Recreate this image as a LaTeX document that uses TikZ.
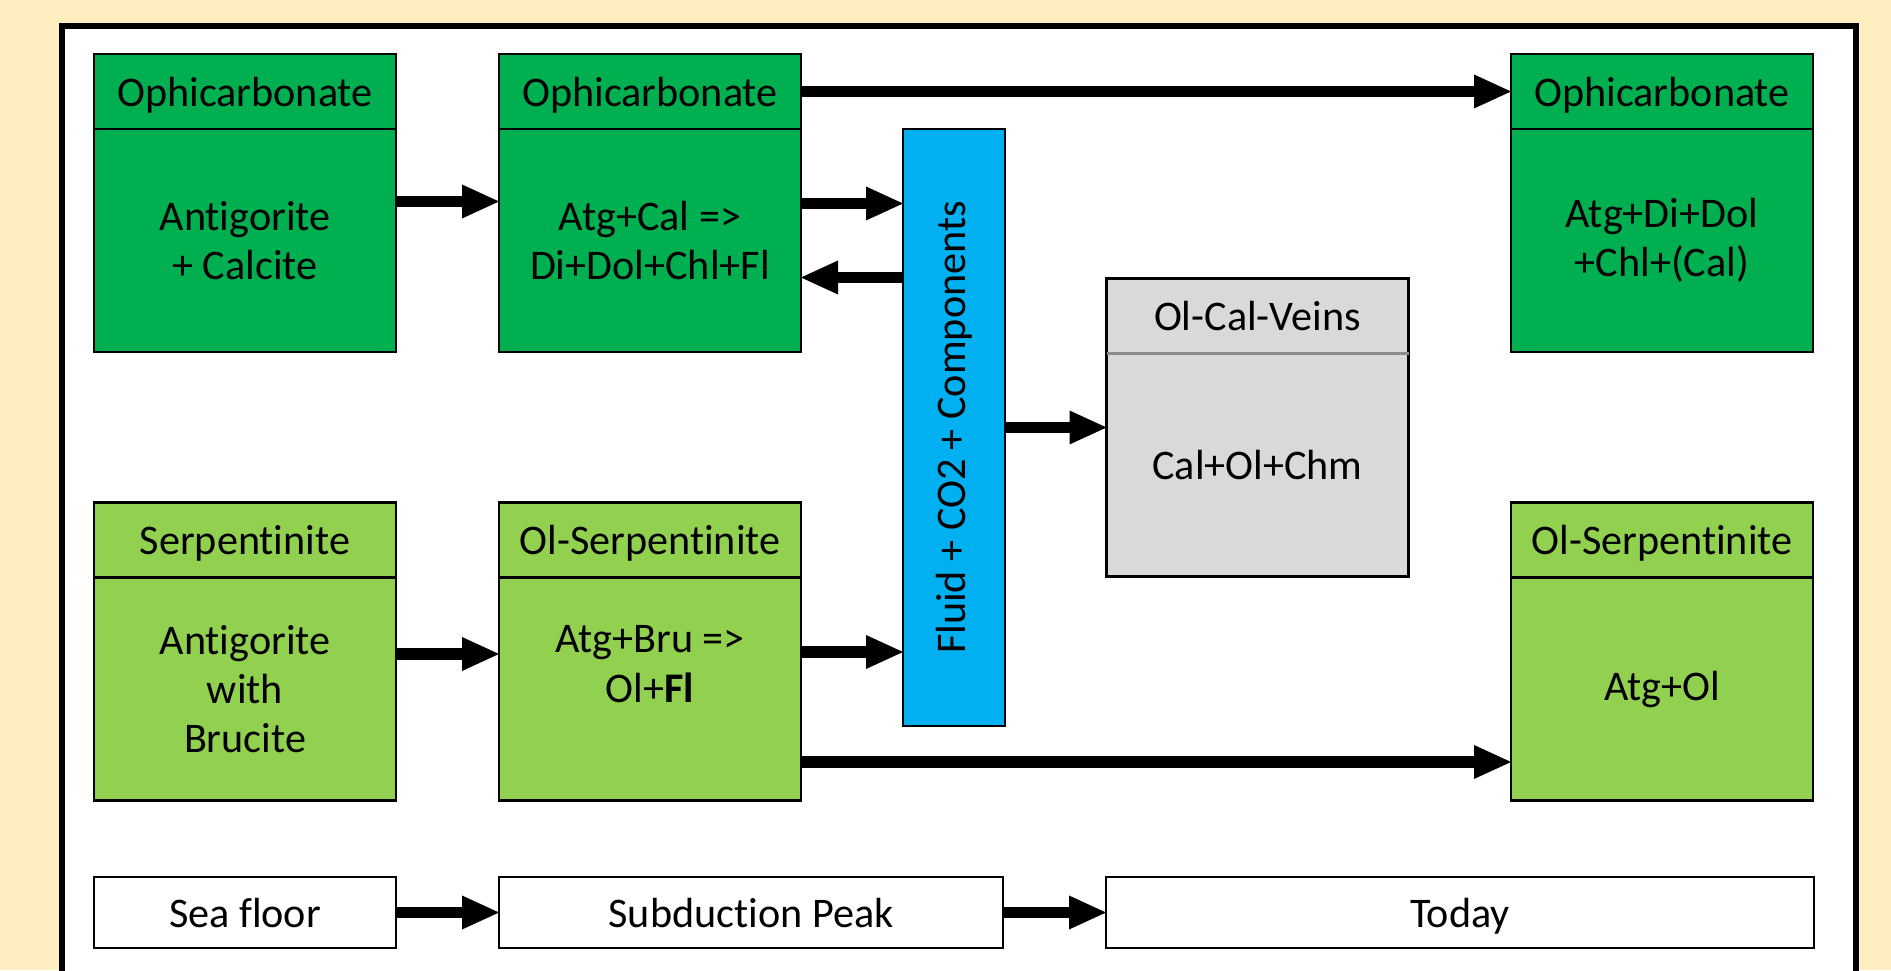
\documentclass[tikz,border=0pt]{standalone}
\usepackage{fontspec}
\setmainfont{Carlito}[Ligatures=NoCommon]
\definecolor{ophigreen}{HTML}{00B050}
\definecolor{serpgreen}{HTML}{92D050}
\definecolor{fluidblue}{HTML}{00B0F0}
\definecolor{veingray}{HTML}{D9D9D9}
\definecolor{papercream}{HTML}{FFEFC0}
\usetikzlibrary{arrows.meta,positioning}

\begin{document}
\begin{tikzpicture}[font=\fontsize{12}{14}\selectfont]
        \tikzset{
            rockbox/.style={
                draw=black,
                line width=0.8pt,
                minimum width=3.02cm,
                inner sep=0pt,
                outer sep=0pt,
                align=center
            },
            rockhead/.style={
                rockbox,
                minimum height=0.75cm,
                text depth=0pt
            },
            rockbody/.style={
                rockbox,
                minimum height=2.23cm
            },
            ophirock/.style={fill=ophigreen},
            serprock/.style={fill=serpgreen},
            veinrock/.style={fill=veingray},
            timebox/.style={
                rockhead,
                fill=white,
                minimum height=0.71cm
            },
            flowarrow/.style={
                -{Triangle[length=3.7mm,width=3.4mm,line width=0pt]},
                draw=black,
                line width=3.4pt
            }
        }

        % page and frame
        \useasboundingbox (0,0) rectangle (18.91,9.70);
        \fill[papercream] (0,0) rectangle (18.91,9.70);
        \begin{scope}
            \clip (0,0) rectangle (18.91,9.70);
            \draw[line width=1.7pt, fill=white] (0.62,-0.5) rectangle (18.56,9.44);
        \end{scope}

        % ophicarbonate row
        \node[rockhead, ophirock] (seaoh) at (2.45,8.785) {Ophicarbonate};
        \node[rockbody, ophirock, below=0pt of seaoh] (seaob)
            {Antigorite\\+ Calcite};
        \node[rockhead, ophirock] (peakoh) at (6.50,8.785) {Ophicarbonate};
        \node[rockbody, ophirock, below=0pt of peakoh] (peakob)
            {Atg+Cal =>\\Di+Dol+Chl+Fl};
        \node[rockhead, ophirock] (todayoh) at (16.62,8.785) {Ophicarbonate};
        \node[rockbody, ophirock, below=0pt of todayoh] (todayob)
            {Atg+Di+Dol\\+Chl+(Cal)};

        % serpentinite row
        \node[rockhead, serprock] (seash) at (2.45,4.30) {Serpentinite};
        \node[rockbody, serprock, below=0pt of seash] (seasb)
            {Antigorite\\with\\Brucite};
        \node[rockhead, serprock] (peaksh) at (6.50,4.30) {Ol-Serpentinite};
        \node[rockbody, serprock, below=0pt of peaksh] (peaksb)
            {Atg+Bru =>\\Ol+\textbf{Fl}\\[-4pt]\strut};
        \node[rockhead, serprock] (todaysh) at (16.62,4.30) {Ol-Serpentinite};
        \node[rockbody, serprock, below=0pt of todaysh] (todaysb) {Atg+Ol};

        % fluid and veins
        \node[rockbox, fill=fluidblue, minimum width=1.02cm,
            minimum height=5.97cm] (fluid) at (9.54,5.425)
            {\rotatebox{90}{Fluid + CO2 + Components}};
        \node[rockhead, veinrock] (veinh) at (12.575,6.54) {Ol-Cal-Veins};
        \node[rockbody, veinrock, below=0pt of veinh] (veinb) {Cal+Ol+Chm};
        \draw[line width=0.8pt, black!45] (veinh.south west) -- (veinh.south east);

        % time line
        \node[timebox] (seafloor) at (2.45,0.575) {Sea floor};
        \node[timebox, minimum width=5.04cm] (peak) at (7.51,0.575)
            {Subduction Peak};
        \node[timebox, minimum width=7.08cm] (today) at (14.60,0.575) {Today};

        % arrows
        \coordinate (peakup) at ([yshift=3.7mm]peakob.east);
        \coordinate (peakdown) at ([yshift=-3.7mm]peakob.east);
        \coordinate (serpup) at ([yshift=3.7mm]peaksb.east);

        \draw[flowarrow] ([yshift=3.9mm]seaob.east) -- ([yshift=3.9mm]peakob.west);
        \draw[flowarrow] (peakoh.east) -- (todayoh.west);
        \draw[flowarrow] (peakup) -- (peakup -| fluid.west);
        \draw[flowarrow] (peakdown -| fluid.west) -- (peakdown);
        \draw[flowarrow] (fluid.east) -- (fluid.east -| veinb.west);

        \draw[flowarrow] ([yshift=3.5mm]seasb.east) -- ([yshift=3.5mm]peaksb.west);
        \draw[flowarrow] (serpup) -- (serpup -| fluid.west);
        \draw[flowarrow] ([yshift=-7.3mm]peaksb.east) -- ([yshift=-7.3mm]todaysb.west);

        \draw[flowarrow] (seafloor) -- (peak);
        \draw[flowarrow] (peak) -- (today);
    \end{tikzpicture}
\end{document}
